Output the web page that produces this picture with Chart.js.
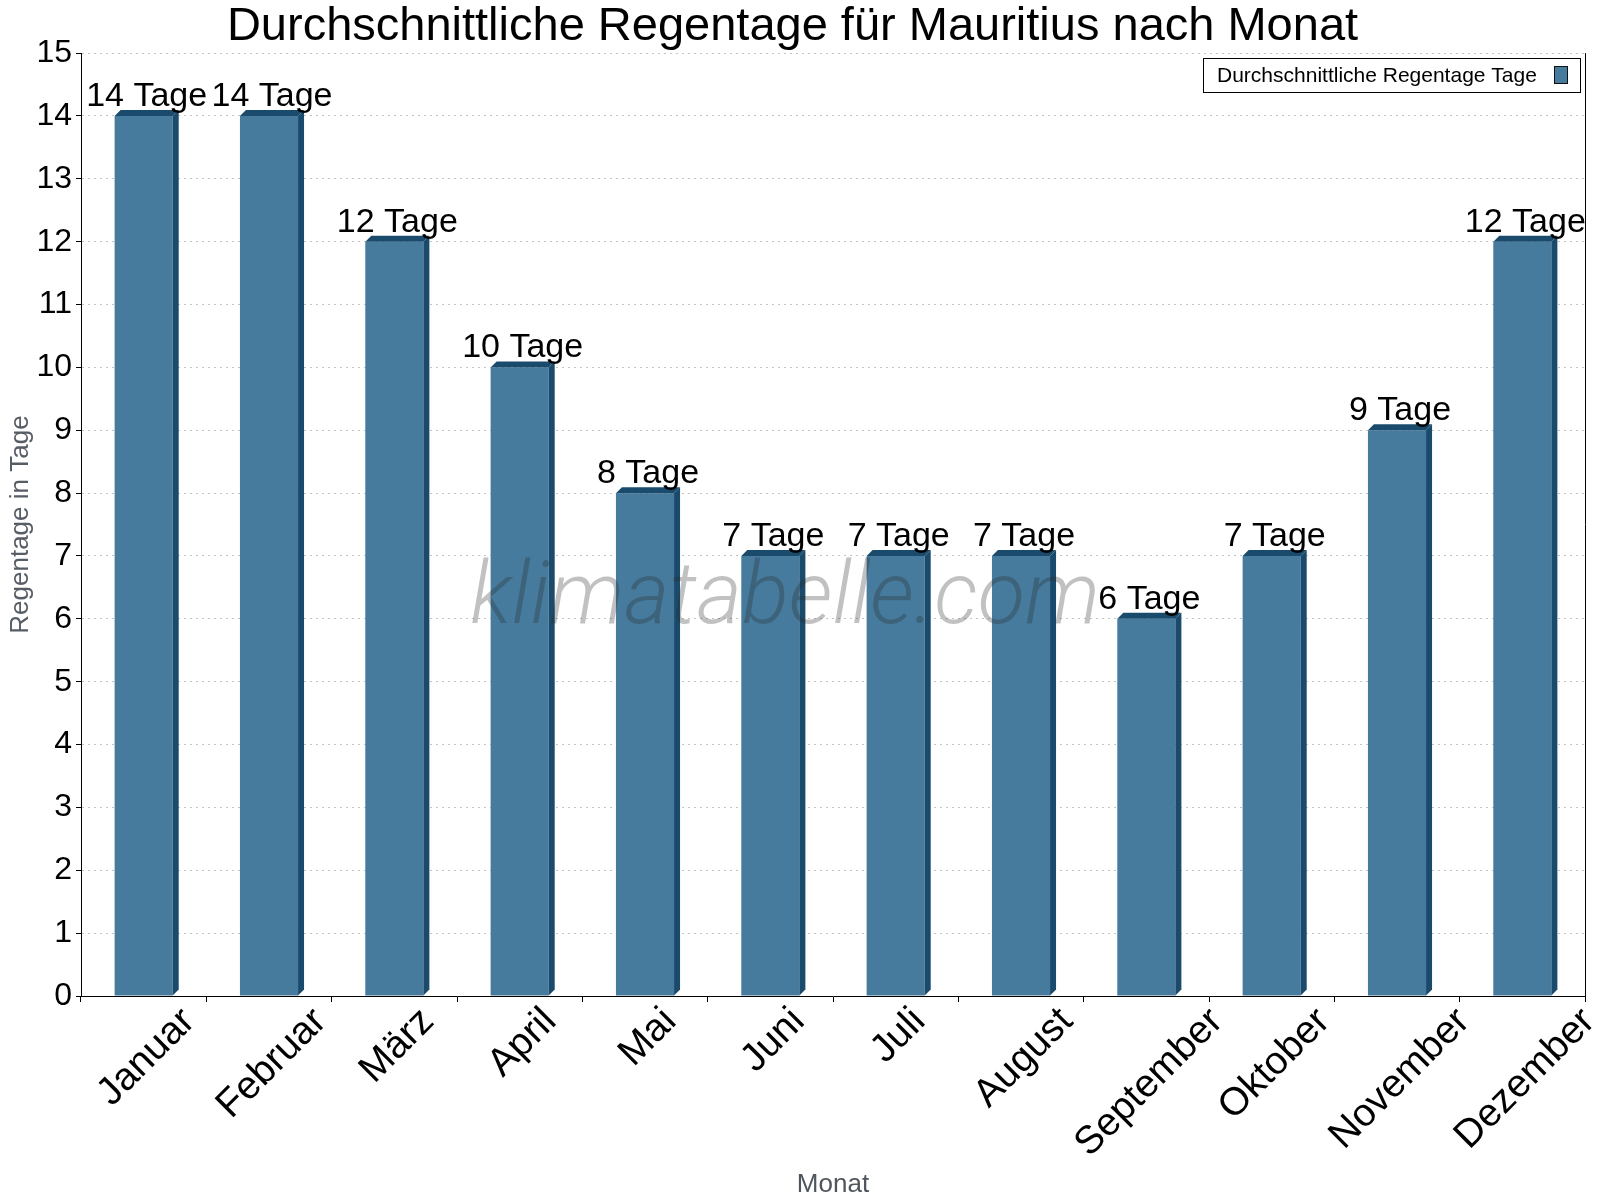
<!DOCTYPE html>
<html><head><meta charset="utf-8">
<script src="https://cdn.jsdelivr.net/npm/chart.js@4.4.0/dist/chart.umd.min.js"></script>
<style>html,body{margin:0;padding:0;background:#fff}canvas{display:block}</style>
</head><body>
<canvas id="c" width="1600" height="1200"></canvas>
<script>
const months = ['Januar','Februar','März','April','Mai','Juni','Juli','August','September','Oktober','November','Dezember'];
const rainDays = [14,14,12,10,8,7,7,7,6,7,9,12];
const yTickValues = [0,1,2,3,4,5,6,7,8,9,10,11,12,13,14,15];
const unitLabel = 'Tage';
const seriesLabel = 'Durchschnittliche Regentage Tage';
const chartTitle = 'Durchschnittliche Regentage für Mauritius nach Monat';
const yAxisTitle = 'Regentage in Tage';
const xAxisTitle = 'Monat';
const watermarkText = 'klimatabelle.com';

const FRONT = '#467b9d';
const DARK = '#1a4b6c';
const FONT = "'Liberation Sans', Arial, sans-serif";
const DEPTH = 6;
const XLABEL_SIZE = 39;

const bar3d = {
  id: 'bar3d',
  afterDatasetsDraw(chart) {
    const ctx = chart.ctx;
    const meta = chart.getDatasetMeta(0);
    ctx.save();
    meta.data.forEach((bar) => {
      const p = bar.getProps(['x','y','base','width'], true);
      const l = p.x - p.width/2, r = p.x + p.width/2, t = p.y, b = p.base;
      ctx.fillStyle = DARK;
      ctx.beginPath();
      ctx.moveTo(l, t); ctx.lineTo(l+DEPTH, t-DEPTH); ctx.lineTo(r+DEPTH, t-DEPTH); ctx.lineTo(r, t); ctx.closePath(); ctx.fill();
      ctx.beginPath();
      ctx.moveTo(r, t); ctx.lineTo(r+DEPTH, t-DEPTH); ctx.lineTo(r+DEPTH, b-DEPTH); ctx.lineTo(r, b); ctx.closePath(); ctx.fill();
    });
    // watermark
    ctx.font = "italic 300 87px Roboto, 'Open Sans', sans-serif";
    ctx.fillStyle = 'rgba(40,40,40,0.29)';
    ctx.textAlign = 'center';
    ctx.textBaseline = 'alphabetic';
    ctx.fillText(watermarkText, 785, 623);
    // data labels
    ctx.font = '34px ' + FONT;
    ctx.fillStyle = '#000';
    ctx.textAlign = 'center';
    meta.data.forEach((bar, i) => {
      const p = bar.getProps(['x','y'], true);
      ctx.fillText(rainDays[i] + ' ' + unitLabel, p.x + 3, p.y - 10);
    });
    ctx.restore();
  },
  afterDraw(chart) {
    const ctx = chart.ctx;
    const a = chart.chartArea;
    const xs = chart.scales.x;
    ctx.save();
    // rotated category labels, centred under each tick, tops aligned
    ctx.font = XLABEL_SIZE + 'px ' + FONT;
    ctx.fillStyle = '#000';
    ctx.textAlign = 'center';
    ctx.textBaseline = 'middle';
    const yTop = a.bottom + 9;
    chart.data.labels.forEach((lab, i) => {
      const w = ctx.measureText(lab).width;
      const h = XLABEL_SIZE * 0.75;
      const half = (w + h) * Math.SQRT1_2 / 2;
      const cx = xs.getPixelForTick(i) + 3;
      const cy = yTop + half;
      ctx.save();
      ctx.translate(cx, cy);
      ctx.rotate(-Math.PI / 4);
      ctx.fillText(lab, 0, 0);
      ctx.restore();
    });
    // right frame line
    ctx.strokeStyle = '#000'; ctx.lineWidth = 1;
    ctx.beginPath(); ctx.moveTo(Math.round(a.right)+0.5, a.top); ctx.lineTo(Math.round(a.right)+0.5, a.bottom); ctx.stroke();
    // legend
    const bx = 1203.5, by = 58.5, bw = 377, bh = 34;
    ctx.fillStyle = '#fff'; ctx.fillRect(bx, by, bw, bh);
    ctx.strokeStyle = '#000'; ctx.strokeRect(bx, by, bw, bh);
    ctx.font = '21px ' + FONT; ctx.fillStyle = '#000';
    ctx.textAlign = 'left'; ctx.textBaseline = 'middle';
    ctx.fillText(chart.data.datasets[0].label, 1217, 76);
    ctx.fillStyle = chart.data.datasets[0].backgroundColor;
    ctx.fillRect(1554.5, 66.5, 13, 17);
    ctx.strokeStyle = '#111'; ctx.strokeRect(1554.5, 66.5, 13, 17);
    ctx.restore();
  }
};

new Chart(document.getElementById('c'), {
  type: 'bar',
  data: {
    labels: months,
    datasets: [{
      label: seriesLabel,
      data: rainDays,
      backgroundColor: FRONT,
      borderWidth: 0,
      barPercentage: 0.9,
      categoryPercentage: 0.515
    }]
  },
  options: {
    responsive: false,
    animation: false,
    devicePixelRatio: 1,
    layout: { padding: { left: 0, right: 15, top: 0, bottom: 0 } },
    plugins: {
      legend: { display: false },
      tooltip: { enabled: false },
      title: {
        display: true, text: chartTitle, color: '#000',
        font: { family: FONT, size: 47, weight: 'normal', lineHeight: 1.13 },
        padding: { top: 0, bottom: 0 }
      }
    },
    scales: {
      x: {
        offset: true,
        grid: { display: true, drawOnChartArea: false, drawTicks: true, tickLength: 6, tickColor: '#000' },
        border: { display: true, color: '#000', width: 1 },
        ticks: { display: false, autoSkip: false },
        title: { display: true, text: xAxisTitle, color: '#50565e', font: { family: FONT, size: 26 }, padding: { top: 0, bottom: 0 } },
        afterFit(s) { s.height = 204; s.paddingLeft = 0; s.paddingRight = 0; }
      },
      y: {
        min: 0, max: 15,
        afterBuildTicks(s) { s.ticks = yTickValues.map(v => ({ value: v })); },
        grid: {
          color: (c) => c.tick && c.tick.value === 0 ? 'rgba(0,0,0,0)' : '#c4c4c4',
          tickColor: '#000', tickLength: 5, lineWidth: 1
        },
        border: { display: true, color: '#000', width: 1, dash: [2, 4] },
        ticks: { color: '#000', font: { family: FONT, size: 32 }, padding: 4 },
        title: { display: true, text: yAxisTitle, color: '#575d65', font: { family: FONT, size: 26 }, padding: { top: 5, bottom: 0 } },
        afterFit(s) { s.width = 81; s.paddingTop = 0; s.paddingBottom = 0; }
      }
    }
  },
  plugins: [bar3d]
});
</script>
</body></html>
